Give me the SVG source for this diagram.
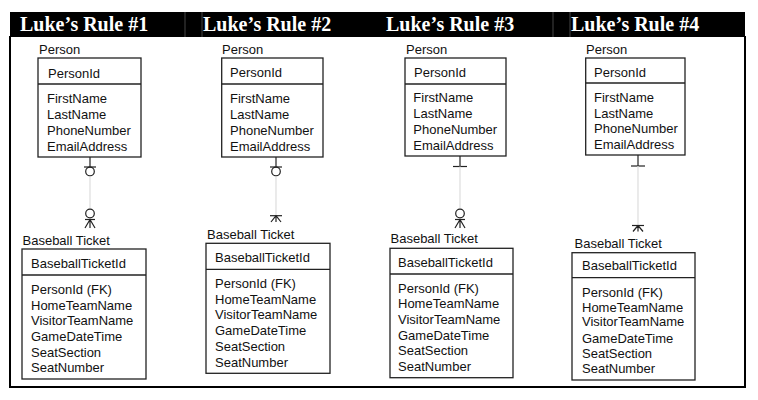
<svg xmlns="http://www.w3.org/2000/svg" width="758" height="400" viewBox="0 0 758 400">
<style>
.title{font-family:"Liberation Serif","Times New Roman",serif;font-weight:bold;font-size:20px;fill:#fff}
.t{font-family:"Liberation Sans",Arial,sans-serif;font-size:13px;fill:#111}
.box{fill:#fff;stroke:#222;stroke-width:1.3}
.div{stroke:#222;stroke-width:1.3}
.blk{stroke:#222;stroke-width:1.2;fill:none}
.gry{stroke:#ddd;stroke-width:1.2;fill:none}
.hdiv{stroke:#444;stroke-width:1}
</style>
<rect x="0" y="0" width="758" height="400" fill="#fff"/>
<g id="frame">
<rect x="10" y="12" width="735" height="25" fill="#000"/>
<line class="hdiv" x1="185" y1="12" x2="185" y2="37"/>
<line class="hdiv" x1="202" y1="12" x2="202" y2="37"/>
<line class="hdiv" x1="553" y1="12" x2="553" y2="37"/>
<line class="hdiv" x1="570" y1="12" x2="570" y2="37"/>
<path d="M10,36 V387 H745 V36" fill="none" stroke="#000" stroke-width="2"/>
<text class="title" x="20" y="31">Luke’s Rule #1</text>
<text class="title" x="203" y="31">Luke’s Rule #2</text>
<text class="title" x="386" y="31">Luke’s Rule #3</text>
<text class="title" x="571" y="31">Luke’s Rule #4</text>
</g>
<g id="connectors">
<!-- rule 1 -->
<line class="blk" x1="90" y1="157" x2="90" y2="167"/>
<line class="blk" x1="84" y1="167" x2="96" y2="167"/>
<circle class="blk" cx="90" cy="171.5" r="4.3"/>
<line class="gry" x1="90" y1="176" x2="90" y2="209"/>
<circle class="blk" cx="90" cy="213.5" r="4.3"/>
<line class="blk" x1="85" y1="219.5" x2="95" y2="219.5"/>
<path class="blk" d="M90,219.5 L85,228 M90,219.5 V228 M90,219.5 L95,228"/>
<!-- rule 2 -->
<line class="blk" x1="276" y1="157" x2="276" y2="167"/>
<line class="blk" x1="270" y1="167" x2="282" y2="167"/>
<circle class="blk" cx="276" cy="171.5" r="4.3"/>
<line class="gry" x1="276" y1="176" x2="276" y2="215.7"/>
<line class="blk" x1="270" y1="215.7" x2="282" y2="215.7"/>
<path class="blk" d="M276,215.7 L271,222 M276,215.7 V222 M276,215.7 L281,222"/>
<!-- rule 3 -->
<line class="blk" x1="460" y1="156" x2="460" y2="166.5"/>
<line class="blk" x1="453" y1="166.5" x2="467" y2="166.5"/>
<line class="gry" x1="460" y1="166.5" x2="460" y2="209"/>
<circle class="blk" cx="460" cy="213.5" r="4.3"/>
<line class="blk" x1="455" y1="219.5" x2="465" y2="219.5"/>
<path class="blk" d="M460,219.5 L455,228 M460,219.5 V228 M460,219.5 L465,228"/>
<!-- rule 4 -->
<line class="blk" x1="638" y1="155" x2="638" y2="166"/>
<line class="blk" x1="631" y1="166" x2="645" y2="166"/>
<line class="gry" x1="638" y1="166" x2="638" y2="225.5"/>
<line class="blk" x1="632" y1="225.5" x2="644" y2="225.5"/>
<path class="blk" d="M638,225.5 L633,231.5 M638,225.5 V231.5 M638,225.5 L643,231.5"/>
</g>
<g id="person1">
<text class="t" x="39" y="54">Person</text>
<rect class="box" x="38" y="58" width="103" height="99"/>
<line class="div" x1="38" y1="84" x2="141" y2="84"/>
<text class="t" x="48" y="77.7">PersonId</text>
<text class="t" x="47" y="103.4">FirstName</text>
<text class="t" x="47" y="119">LastName</text>
<text class="t" x="47" y="135">PhoneNumber</text>
<text class="t" x="47" y="151">EmailAddress</text>
</g>
<g id="ticket1">
<text class="t" x="22.5" y="245">Baseball Ticket</text>
<rect class="box" x="22" y="249" width="124" height="130"/>
<line class="div" x1="22" y1="275" x2="146" y2="275"/>
<text class="t" x="31" y="267.7">BaseballTicketId</text>
<text class="t" x="31" y="294">PersonId (FK)</text>
<text class="t" x="31" y="309.7">HomeTeamName</text>
<text class="t" x="31" y="325.4">VisitorTeamName</text>
<text class="t" x="31" y="341.4">GameDateTime</text>
<text class="t" x="31" y="357">SeatSection</text>
<text class="t" x="31" y="372.4">SeatNumber</text>
</g>
<g id="person2">
<text class="t" x="222" y="54">Person</text>
<rect class="box" x="221.7" y="58" width="101.3" height="99"/>
<line class="div" x1="221.7" y1="84" x2="323" y2="84"/>
<text class="t" x="230" y="77.4">PersonId</text>
<text class="t" x="230" y="103">FirstName</text>
<text class="t" x="230" y="118.7">LastName</text>
<text class="t" x="230" y="134.7">PhoneNumber</text>
<text class="t" x="230" y="150.7">EmailAddress</text>
</g>
<g id="ticket2">
<text class="t" x="207" y="238.5">Baseball Ticket</text>
<rect class="box" x="206" y="243.3" width="124" height="130"/>
<line class="div" x1="206" y1="269.3" x2="330" y2="269.3"/>
<text class="t" x="215" y="262">BaseballTicketId</text>
<text class="t" x="215" y="288">PersonId (FK)</text>
<text class="t" x="215" y="304">HomeTeamName</text>
<text class="t" x="215" y="319">VisitorTeamName</text>
<text class="t" x="215" y="334.7">GameDateTime</text>
<text class="t" x="215" y="351.4">SeatSection</text>
<text class="t" x="215" y="367">SeatNumber</text>
</g>
<g id="person3">
<text class="t" x="406" y="54">Person</text>
<rect class="box" x="405" y="58" width="101" height="98"/>
<line class="div" x1="405" y1="84" x2="506" y2="84"/>
<text class="t" x="414" y="77">PersonId</text>
<text class="t" x="413.3" y="102.4">FirstName</text>
<text class="t" x="413.3" y="118">LastName</text>
<text class="t" x="413.3" y="134">PhoneNumber</text>
<text class="t" x="413.3" y="149.7">EmailAddress</text>
</g>
<g id="ticket3">
<text class="t" x="390.5" y="243">Baseball Ticket</text>
<rect class="box" x="390" y="248.3" width="123" height="129.4"/>
<line class="div" x1="390" y1="274" x2="513" y2="274"/>
<text class="t" x="398" y="267">BaseballTicketId</text>
<text class="t" x="398" y="293.4">PersonId (FK)</text>
<text class="t" x="398" y="308">HomeTeamName</text>
<text class="t" x="398" y="324">VisitorTeamName</text>
<text class="t" x="398" y="339.7">GameDateTime</text>
<text class="t" x="398" y="355.4">SeatSection</text>
<text class="t" x="398" y="370.7">SeatNumber</text>
</g>
<g id="person4">
<text class="t" x="586" y="53.5">Person</text>
<rect class="box" x="585.7" y="58" width="99.3" height="97"/>
<line class="div" x1="585.7" y1="83" x2="685" y2="83"/>
<text class="t" x="594" y="77.4">PersonId</text>
<text class="t" x="594" y="101.7">FirstName</text>
<text class="t" x="594" y="117.7">LastName</text>
<text class="t" x="594" y="132.7">PhoneNumber</text>
<text class="t" x="594" y="148.7">EmailAddress</text>
</g>
<g id="ticket4">
<text class="t" x="574.5" y="247.7">Baseball Ticket</text>
<rect class="box" x="572" y="252.7" width="123" height="127.3"/>
<line class="div" x1="572" y1="277.7" x2="695" y2="277.7"/>
<text class="t" x="582" y="269.7">BaseballTicketId</text>
<text class="t" x="582" y="296.7">PersonId (FK)</text>
<text class="t" x="582" y="312">HomeTeamName</text>
<text class="t" x="582" y="326.4">VisitorTeamName</text>
<text class="t" x="582" y="342.7">GameDateTime</text>
<text class="t" x="582" y="357.7">SeatSection</text>
<text class="t" x="582" y="373">SeatNumber</text>
</g>
</svg>
